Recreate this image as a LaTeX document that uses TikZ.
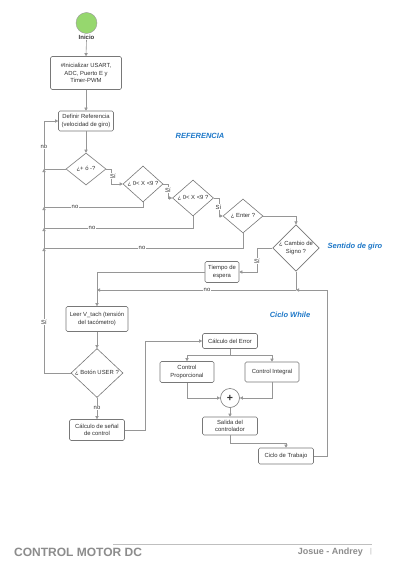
\documentclass[tikz,border=0pt]{standalone}
\usepackage{fontspec}
\setmainfont{Liberation Sans}
\usetikzlibrary{shapes.geometric,arrows.meta}
\definecolor{ln}{RGB}{150,150,150}
\definecolor{bd}{RGB}{120,120,120}
\definecolor{tx}{RGB}{50,50,50}
\definecolor{bl}{RGB}{30,120,200}
\definecolor{gr}{RGB}{150,215,110}
\definecolor{ft}{RGB}{140,140,140}
\begin{document}
\begin{tikzpicture}[x=1pt,y=-1pt,
  pbox/.style={draw=bd, line width=0.6pt, rounded corners=1.5pt, align=center, text=tx, font=\fontsize{5.9}{7.2}\selectfont, inner sep=0pt},
  dec/.style={diamond, draw=bd, line width=0.6pt, align=center, text=tx, font=\fontsize{5.9}{7.2}\selectfont, inner sep=0pt},
  arrowline/.style={draw=ln, line width=0.6pt, -{Triangle[width=3.2pt,length=3pt]}},
  plain/.style={draw=ln, line width=0.6pt},
  lab/.style={fill=white, inner sep=0.6pt, text=tx, font=\fontsize{5.9}{7}\selectfont},
  title/.style={text=bl, font=\fontsize{7.5}{9}\selectfont\bfseries\itshape}]
\useasboundingbox (0,0) rectangle (400,575);
\fill[white] (0,0) rectangle (400,575);

% nodes
\node[circle, fill=gr, draw=gray!80, line width=0.4pt, minimum size=21pt, inner sep=0] (start) at (86.5,23) {};
\node[font=\fontsize{6}{7}\selectfont\bfseries, text=tx, inner sep=0.5pt] (inicio) at (86.5,37) {Inicio};
\node[pbox, minimum width=71pt, minimum height=33pt] (init) at (86,73) {\#Inicializar USART,\\ADC, Puerto E y\\Timer-PWM};
\node[pbox, minimum width=55pt, minimum height=20pt] (defref) at (86,121) {Definir Referencia\\(velocidad de giro)};
\node[dec, minimum width=40pt, minimum height=32pt] (d1) at (86,169) {¿+ ó -?};
\node[dec, minimum width=40pt, minimum height=32pt] (d2) at (143,184) {¿ 0< X <9 ?};
\node[dec, minimum width=41pt, minimum height=32pt] (d3) at (193,198) {¿ 0< X <9 ?};
\node[dec, minimum width=40pt, minimum height=34pt] (d4) at (243,216) {¿ Enter ?};
\node[dec, minimum width=46pt, minimum height=40pt] (d5) at (296,248) {¿ Cambio de\\Signo ?};
\node[pbox, minimum width=34pt, minimum height=21pt] (tiempo) at (222,272) {Tiempo de\\espera};
\node[pbox, minimum width=62pt, minimum height=25pt] (leer) at (97,319) {Leer V\_tach (tensión\\del tacómetro)};
\node[dec, minimum width=52pt, minimum height=48pt] (d6) at (97,373) {¿ Botón USER ?};
\node[pbox, minimum width=55pt, minimum height=21pt] (calc) at (97,430) {Cálculo de señal\\de control};
\node[pbox, minimum width=55pt, minimum height=15pt] (err) at (230,341) {Cálculo del Error};
\node[pbox, minimum width=54pt, minimum height=21pt] (prop) at (187,372) {Control\\Proporcional};
\node[pbox, minimum width=54pt, minimum height=20pt] (integ) at (272,372) {Control Integral};
\node[circle, draw=bd, line width=0.6pt, minimum size=19pt, inner sep=0, font=\fontsize{10.5}{10.5}\selectfont\bfseries, text=tx] (sum) at (230,398) {+};
\node[pbox, minimum width=55pt, minimum height=18pt] (salida) at (230,426) {Salida del\\controlador};
\node[pbox, minimum width=55pt, minimum height=16pt] (ciclo) at (286,456) {Ciclo de Trabajo};

% coordinates
\coordinate (cL1) at (44,169);
\coordinate (cL2) at (44,207);
\coordinate (cL3) at (44,228);
\coordinate (cL4) at (44,248);
\coordinate (cJ) at (296,290);
\coordinate (cK) at (97,290);
\coordinate (cR) at (327,290);
\coordinate (cC) at (145,430);
\coordinate (cS) at (230,355);
\coordinate (cT) at (230,443);
\coordinate (cV) at (257,248);

% main flow
\draw[arrowline] (inicio.south) -- (init.north);
\draw[arrowline] (init.south) -- (defref.north);
\draw[arrowline] (defref.south) -- (d1.north);

% si chain
\draw[arrowline] (d1.east) -- ++(5,0) |- (d2.west);
\node[lab] at (113,176) {Sí};
\draw[arrowline] (d2.east) -- ++(5,0) |- (d3.west);
\node[lab] at (168,190) {Sí};
\draw[arrowline] (d3.east) -- ++(5,0) |- (d4.west);
\node[lab] at (218.5,207) {Sí};
\draw[arrowline] (d4.east) -| (d5.north);

% no chain (left)
\draw[arrowline] (d1.west) -- (cL1) |- (defref.west);
\node[lab] at (44,147) {no};
\draw[arrowline] (d2.south) |- (cL2) -- (cL1);
\node[lab] at (75,207) {no};
\draw[arrowline] (d3.south) |- (cL3) -- (cL2);
\node[lab] at (92,228) {no};
\draw[arrowline] (d4.south) |- (cL4) -- (cL3);
\node[lab] at (142,248) {no};
\draw[arrowline] (d6.west) -| (cL4);
\node[lab] at (44,322) {Sí};

% sentido de giro
\draw[arrowline] (d5.west) -- (cV) |- (tiempo.east);
\node[lab] at (257,261) {Sí};
\draw[arrowline] (tiempo.west) -| (leer.north);
\draw[plain] (d5.south) -- (cJ);
\draw[arrowline] (cJ) -- (cK);
\node[lab] at (207,290) {no};
\draw[arrowline] (ciclo.east) -| (cR) -- (cJ);

% lower
\draw[arrowline] (leer.south) -- (d6.north);
\draw[arrowline] (d6.south) -- (calc.north);
\node[lab] at (97,408) {no};
\draw[arrowline] (calc.east) -- (cC) |- (err.west);
\draw[plain] (err.south) -- (cS);
\draw[arrowline] (cS) -| (prop.north);
\draw[arrowline] (cS) -| (integ.north);
\draw[arrowline] (prop.south) |- (sum.west);
\draw[arrowline] (integ.south) |- (sum.east);
\draw[arrowline] (sum.south) -- (salida.north);
\draw[arrowline] (salida.south) -- (cT) -| (ciclo.north);

% titles
\node[title] (t1) at (200,136) {REFERENCIA};
\node[title] (t2) at (355,247) {Sentido de giro};
\node[title] (t3) at (290,315) {Ciclo While};

% footer
\coordinate (fl1) at (113,544);
\coordinate (fl2) at (372,544);
\draw[draw=gray!50, line width=0.6pt] (fl1) -- (fl2);
\node[anchor=west, font=\fontsize{12}{12}\selectfont\bfseries, text=ft, inner sep=0] (ftitle) at (14,552) {CONTROL MOTOR DC};
\node[anchor=east, font=\fontsize{9}{9}\selectfont\bfseries, text=ft, inner sep=0] (fauth) at (363,552) {Josue - Andrey};
\node[font=\fontsize{7}{7}\selectfont, text=ft!70, inner sep=0] (fbar) at (371,552) {|};
\end{tikzpicture}
\end{document}
